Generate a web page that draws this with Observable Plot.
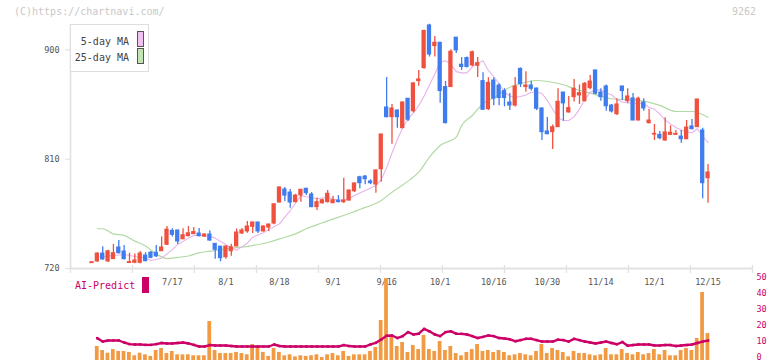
<!DOCTYPE html>
<html><head><meta charset="utf-8">
<script src="https://cdn.jsdelivr.net/npm/d3@7"></script>
<script src="https://cdn.jsdelivr.net/npm/@observablehq/plot@0.6"></script>
<style>
body{margin:0;background:#fff;}
#wrap{position:relative;width:772px;height:361px;overflow:hidden;font-family:"DejaVu Sans Mono",monospace;background:#fff;}
#main,#sub{position:absolute;left:0;}
#main{top:0;} #sub{top:270px;}
.abs{position:absolute;white-space:pre;}
#copy{left:14px;top:6px;font-size:10px;line-height:12px;color:#c8c8c8;}
#code{right:16px;top:6px;font-size:10px;line-height:12px;color:#c8c8c8;}
#legend{left:70px;top:24px;width:77px;height:46px;border:1px solid #dedede;background:#fff;}
#legend .t{position:absolute;right:19px;font-size:10px;line-height:12px;color:#444;}
#legend .s{position:absolute;left:66px;width:5px;height:14px;border:1px solid #555;}
#ai{left:75px;top:280px;font-size:10px;line-height:12px;color:#cc0066;}
#aibox{left:142px;top:277px;width:7px;height:16px;background:#cc0066;}
</style></head>
<body><div id="wrap">
<div id="main"></div><div id="sub"></div>
<div id="copy" class="abs">(C)https://chartnavi.com/</div>
<div id="code" class="abs">9262</div>
<div id="legend" class="abs">
 <div class="t" style="top:11px">5-day MA</div><div class="s" style="top:6px;background:#f0c2f0"></div>
 <div class="t" style="top:27px">25-day MA</div><div class="s" style="top:23px;background:#c4e4b8"></div>
</div>
<div id="ai" class="abs">AI-Predict</div>
<div id="aibox" class="abs"></div>
</div>
<script>
// ---- data (trading days 2025-06-26 .. 2025-12-15, index 0..115)
const labelIndex = [15,25,35,45,55,65,75,85,95,105,115];
const labelText = ["7/17","8/1","8/18","9/1","9/16","10/1","10/16","10/30","11/14","12/1","12/15"];
const priceTicks = [720,810,900];
const volTicks = [0,10,20,30,40,50];

const open = [724.4,725.8,732.3,725.8,727.7,737.3,734,724.5,724.7,724.7, 730.7,733,733,734.2,739.5,751,751.3,744,746.6,748.2, 748.8,746.3,748,740.3,738,729.3,734.2,738.1,748.8,750.5, 754.3,757.9,750.5,753.7,757,774.3,785,782.5,774.6,780.1, 785.6,780.9,770.5,773.7,774.6,773.7,775.9,774.6,775.9,783.6, 795.1,795.7,791.6,789.1,801.7,852.5,844.5,850,835.5,859.7, 849.4,874.2,884.9,920,903,905.8,869.3,869.3,910,887.7, 893.2,887.1,886.8,874.2,851.1,874.7,870.6,866,856.6,854.1, 884.3,869.3,870.6,868.1,851.7,832.8,832.2,836.3,864.8,848.4, 861,862.4,857.7,868.4,883,864.8,869.8,854.1,847,869.8, 857.7,860,841.8,856.6,839.6,830.2,830,825.3,830,830, 828.6,826.4,836.9,836.3,833.6,794.3];
const high = [725.2,733,738,735,739.8,743,739,732.6,732,734, 733,734,739,746,754.6,752.7,751.5,752.7,754.6,753.7, 753,748.5,751,740.5,738,738.5,740,752.5,753,758.7, 758,758,755.1,756.5,773,787,786.7,785,781,785, 786,782.5,778,777,784.2,779.5,780,794.3,784.5,790.5, 796,796.5,793,801,830.5,877.2,855,850.5,857,860, 873,883,916,921,911,906,874,900,910,893.6, 894,899,893.6,881,877,877,872,868,864,877.2, 885,882,874,868.5,852,844.3,838,868,865,861.6, 875.6,871,873,878.8,883,868,871,855,859.7,870, 868,864,861,859.7,850.8,838.5,832.8,844,837.4,833.6, 833.6,841.8,842.6,859.2,835.5,805.6];
const low = [724.3,725,727,725,727.5,732,727,724.3,724,724, 725.5,728,729,734,739,746,739.8,744,746,748, 746,745.5,742.5,727.7,725.5,727.7,730,738,748,749, 748.8,748.8,750,750.5,756,774,775.1,769.6,774,774.6, 780,770,767.7,773,774,773.5,774,773.5,775.5,782.5, 785.6,789,789,782,791,844,822.3,835.5,835,841, 848,870,884,894,894,856,839,869,897,883, 885,886,877.2,850,850,854,854,853,850,853, 869,865,866,850,825.3,830,818,836,841.2,848, 857,855,857,867,863,857.7,849.5,848,846,858.3, 856,841.5,841.5,849.5,839,825.3,826,825,829.5,829.5, 823,826,834,836,777.4,773.7];
const close = [725.2,732.3,727.4,734.2,732.6,732.6,727.7,725.3,726.6,732.3, 726,728.8,730,737.3,752,747.7,742.2,747.4,749,750, 746.6,748,743,735.4,728.5,738.1,737.5,749.6,751.3,754.6, 757.9,750.5,754.6,756.2,772.9,786.7,780,774.3,780,784.8, 782,770.5,774.6,776.2,781.5,776.2,774.6,775.9,784.2,790, 790.2,793.5,790.2,800.7,830.3,844.5,851.7,844.5,856.6,842.4, 872.3,875.6,915.5,896.1,905.8,866,839.6,898.4,899.5,885.8, 885.8,898,889,850.6,872.8,859.7,860.3,860.3,854.1,869.8, 871.7,870.6,867.9,851.4,832.2,830.5,836.3,857.2,855.9,852, 867.9,864.3,872,873.9,863.8,861,853.5,849.2,855,866, 861.6,841.8,859.7,851.7,841.8,830.8,827.2,832,831.7,830.8, 826.4,836,834.7,859.1,790.2,799];

// moving averages: [index, value]
const ma5 = [[1,729.3],[4,730.7],[6,731.5],[8,729.9],[10,728.8],[11,726.6],[13,728.5],[15,735.5],[16,739.8],[18,745],[19,747.2],[20,747.2],[22,746.3],[23,745],[25,739.5],[26,737],[27,735],[28,738],[29,740.8],[30,745.8],[32,749.5],[33,752],[35,756.8],[37,767.7],[39,780],[40,779],[42,777.4],[44,778.5],[46,776],[48,777.4],[49,780],[51,784.2],[53,788.3],[54,793],[55,803],[56,815],[57,826],[58,836],[59,843],[60,848],[61,854],[62,862],[63,871],[64,880],[65,890],[66,891],[67,888],[68,882],[69,881],[70,881],[71,886],[72,889],[73,891],[74,883],[75,878],[76,872],[77,865],[78,862],[79,861],[80,861.5],[81,862.8],[82,865],[83,865],[84,864],[85,858.3],[86,851],[87,844],[88,841.8],[89,841.8],[90,845],[91,851],[92,859],[93,865],[94,866.8],[95,867],[96,864.5],[97,863],[98,859],[99,857],[100,856.3],[101,856],[102,856],[103,855.8],[104,852.5],[105,851],[106,847],[107,842],[108,839],[109,836],[110,834],[111,832.2],[112,831.7],[113,835],[114,829],[115,823.5]];
const ma25Idx = [1,2,4,6,8,10,12,14,16,18,20,22,23,25,28,30,33,35,38,40,43,50,54,56,59,61,63,65,68,69,71,73,75,78,81,83,85,88,90,93,97,102,106,109,112,115];
const ma25Val = [752.7,752.7,748.5,747.2,742.5,738.5,732,728.2,729.2,730.3,732.8,734.3,734.8,736.2,737.6,738.9,741.6,744.4,748.5,752.7,757.6,768.6,776,782.8,791.9,799.3,811.6,821.2,828.1,837.7,845.9,855.6,860.5,869.2,873.3,874.7,873.9,871.2,867.9,864.3,859.7,858.3,854.2,849.2,849.2,844.5];

// lower panel (index 1..115)
const volume = [7.5,5,3.3,5.6,4.4,4.4,3.8,1.7,3.3,2.3, 1.3,5,6.25,3.1,4.4,2.3,2.3,2.3,1.7,1.7, 1.7,23.1,5,3.1,3.1,3.1,3.8,3.1,2.3,8.75, 6.9,3.8,1.3,6.25,3.8,1.7,2.3,1.0,1.7,1.3, 1.7,2.3,0.6,2.3,3.1,1.7,4.4,1.3,2.3,2.3, 2.3,4.4,6.9,23.75,50,13.3,7.5,10,3.75,8.1, 5.6,14.4,5.6,4.4,10.6,5,7.5,3.1,1.7,3.75, 5.6,8.75,4.4,5,3.75,5,3.75,1.7,2.3,3.1, 2.3,1.7,4.4,8.75,3.1,6.25,5,3.75,1.0,4.4, 3.1,3.1,2.3,1.7,2.3,6.25,2.3,2.3,5.6,3.1, 2.3,3.75,2.3,3.1,5.6,2.3,5,1.7,1.7,5, 6.25,5,12.5,41.25,15.6];
const aiPredict = [12.7,10.6,11.25,11.25,11.25,10,9,8.75,8.75,8.5, 8.5,9,9.7,9.4,9.4,9.7,10,9.4,8.5,7.5, 7.5,8.4,8.1,8.1,8.1,7.8,7.5,7.5,7.5,7.5, 7.5,7.5,7.5,8.75,7.8,7.5,7.5,7.5,7.5,7.5, 7.5,7.5,7.5,7.5,7.5,7.5,8.4,7.8,7.5,7.5, 7.5,8.8,9.8,11.9,14.2,14.4,12.8,14,16.5,15, 15.5,18.5,17,15,14,16.5,17,15.5,15.4,15, 14,12.8,13.5,14.4,14,12.8,12.5,12,10.8,11.5, 12.3,12.3,11.5,10.6,10.6,10.6,11.8,11.5,10.6,12.3, 11.5,10.6,10,9.4,10,10.6,9.7,8.9,10.3,8, 8.4,8.75,8.75,8.75,8.1,8.1,8.4,8.4,7.8,8.1, 8.4,8.75,9.7,10.6,11.2];

// ---- build tables
const UP = "#f0513f", DOWN = "#3f7cee";
const candles = open.map((o, i) => ({i, o, h: high[i], l: low[i], c: close[i], col: close[i] >= o ? UP : DOWN}));
const ma5Data = ma5.map(([i, v]) => ({i, v}));
const ma25Data = ma25Idx.map((i, k) => ({i, v: ma25Val[k]}));
const lower = volume.map((v, k) => ({i: k + 1, v, a: aiPredict[k]}));

const X0 = -4.013, X1 = 123.3;
const Y0 = 720, Y1 = 920.8;
const pxY = 244 / (Y1 - Y0);            // pixels per price unit
const pxX = 682 / (X1 - X0);            // pixels per index unit
const gridTicks = d3.range(12).map(k => X0 + k * (X1 - X0) / 11);
const font = "DejaVu Sans Mono, monospace";
const AXIS = "#e2e2e2";

const main = Plot.plot({
  width: 772, height: 290,
  marginLeft: 70, marginRight: 20, marginTop: 24, marginBottom: 22,
  x: {type: "linear", domain: [X0, X1], axis: null},
  y: {domain: [Y0, Y1], axis: null},
  style: {fontFamily: font, background: "transparent"},
  marks: [
    Plot.ruleX([X0], {y1: Y0, y2: Y1, stroke: AXIS, strokeWidth: 1.6}),
    Plot.ruleY([Y0], {x1: X0, x2: X1, stroke: AXIS, strokeWidth: 1.8}),
    Plot.ruleX(gridTicks, {x: d => d, y1: Y0 + 3 / pxY, y2: Y0 - 5 / pxY, stroke: AXIS, strokeWidth: 1.3}),
    Plot.text(labelIndex, {x: d => d, y: Y0, dy: 14, text: d => labelText[labelIndex.indexOf(d)], fill: "#555", fontSize: 8.5, fontFamily: font}),
    Plot.ruleY(priceTicks, {y: d => d, x1: X0 - 5 / pxX, x2: X0, stroke: AXIS, strokeWidth: 1.2}),
    Plot.text(priceTicks, {x: X0, y: d => d, dx: -11, text: d => String(d), textAnchor: "end", fill: "#555", fontSize: 8.5, fontFamily: font}),
    Plot.line(ma25Data, {x: "i", y: "v", stroke: "#b2daa4", strokeWidth: 1.2, curve: "monotone-x"}),
    Plot.line(ma5Data, {x: "i", y: "v", stroke: "#e8b2ec", strokeWidth: 1.1}),
    Plot.ruleX(candles, {x: "i", y1: "l", y2: "h", stroke: "col", strokeWidth: 1.3}),
    Plot.rect(candles, {x1: d => d.i - 0.4, x2: d => d.i + 0.4, y1: "o", y2: "c", fill: "col", insetTop: -0.5, insetBottom: -0.5})
  ]
});
document.getElementById("main").appendChild(main);

const sub = Plot.plot({
  width: 772, height: 91,
  marginLeft: 70, marginRight: 20, marginTop: 8, marginBottom: 3,
  x: {type: "linear", domain: [X0, X1], axis: null},
  y: {domain: [0, 50], axis: null},
  style: {fontFamily: font, background: "transparent"},
  marks: [
    Plot.rect(lower, {x1: d => d.i - 0.37, x2: d => d.i + 0.33, y1: 0, y2: "v", fill: "#f29a42", insetBottom: -2}),
    Plot.line(lower, {x: "i", y: "a", stroke: "#cc0066", strokeWidth: 2.4}),
    Plot.dot(lower, {x: "i", y: "a", fill: "#cc0066", r: 1.4, symbol: "square"}),
    Plot.text(volTicks, {x: X1, y: d => d, dx: 4, dy: -1.5, text: d => String(d), textAnchor: "start", fill: "#cc0066", fontSize: 8.5, fontFamily: font})
  ]
});
document.getElementById("sub").appendChild(sub);
</script>
</body></html>
